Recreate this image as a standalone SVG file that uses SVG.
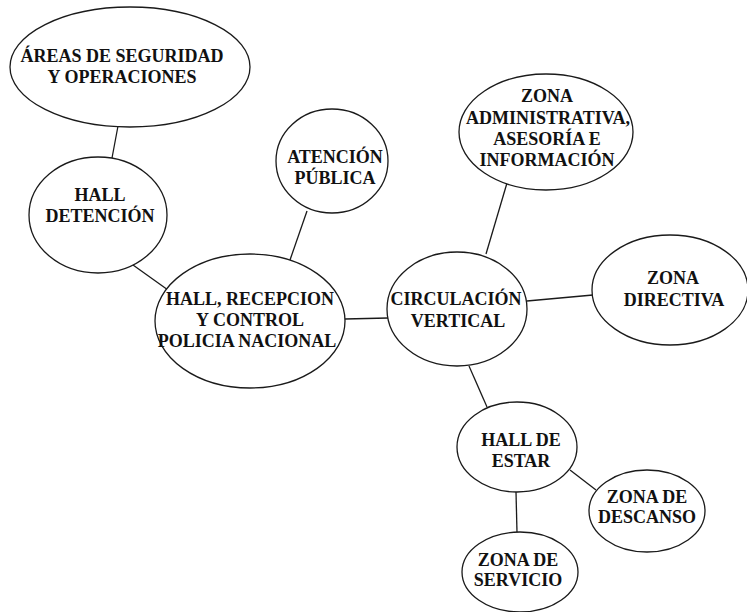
<svg xmlns="http://www.w3.org/2000/svg" width="747" height="612" viewBox="0 0 747 612">
<style>
.n ellipse{fill:#fff;stroke:#1a1a1a;stroke-width:1.3}
.n text{font-family:"Liberation Serif","Times New Roman",serif;font-weight:bold;font-size:18px;fill:#111;text-anchor:middle}
#edges line{stroke:#1a1a1a;stroke-width:1.3}
</style>
<rect width="747" height="612" fill="#fff"/>
<g id="edges">
<line x1="118" y1="126" x2="112" y2="158"/>
<line x1="133" y1="265" x2="168" y2="290"/>
<line x1="307" y1="211" x2="290" y2="260"/>
<line x1="345" y1="319" x2="388" y2="318"/>
<line x1="507" y1="183" x2="486" y2="254"/>
<line x1="527" y1="301" x2="593" y2="295"/>
<line x1="469" y1="366" x2="487" y2="407"/>
<line x1="570" y1="470" x2="596" y2="490"/>
<line x1="516" y1="492" x2="517" y2="532"/>
</g>
<g id="areas" class="n"><ellipse cx="130" cy="67" rx="120" ry="60"/><text x="122" y="62">ÁREAS DE SEGURIDAD</text><text x="122" y="83">Y OPERACIONES</text></g>
<g id="hall-detencion" class="n"><ellipse cx="98" cy="215" rx="69" ry="58"/><text x="100" y="201">HALL</text><text x="100" y="222">DETENCIÓN</text></g>
<g id="hall-recepcion" class="n"><ellipse cx="250" cy="321" rx="95" ry="67"/><text x="250" y="305">HALL, RECEPCION</text><text x="250" y="326">Y CONTROL</text><text x="247" y="347">POLICIA NACIONAL</text></g>
<g id="atencion" class="n"><ellipse cx="332" cy="161" rx="56" ry="52"/><text x="335" y="163">ATENCIÓN</text><text x="335" y="184">PÚBLICA</text></g>
<g id="zona-admin" class="n"><ellipse cx="546" cy="132" rx="87" ry="58"/><text x="547" y="102">ZONA</text><text x="548" y="124">ADMINISTRATIVA,</text><text x="547" y="145">ASESORÍA E</text><text x="547" y="166">INFORMACIÓN</text></g>
<g id="circulacion" class="n"><ellipse cx="457" cy="309" rx="70" ry="57"/><text x="456" y="305">CIRCULACIÓN</text><text x="458" y="327">VERTICAL</text></g>
<g id="zona-directiva" class="n"><ellipse cx="670" cy="290" rx="78" ry="55"/><text x="673" y="284">ZONA</text><text x="674" y="306">DIRECTIVA</text></g>
<g id="hall-estar" class="n"><ellipse cx="517" cy="447" rx="60" ry="45"/><text x="521" y="446">HALL DE</text><text x="521" y="467">ESTAR</text></g>
<g id="zona-descanso" class="n"><ellipse cx="647" cy="511" rx="58" ry="41"/><text x="647" y="503">ZONA DE</text><text x="647" y="523">DESCANSO</text></g>
<g id="zona-servicio" class="n"><ellipse cx="520" cy="572" rx="58" ry="40"/><text x="518" y="566">ZONA DE</text><text x="518" y="586">SERVICIO</text></g>
</svg>
